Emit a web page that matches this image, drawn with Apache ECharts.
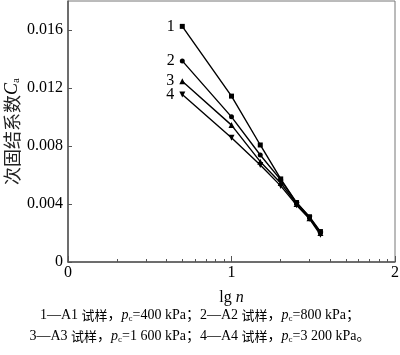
<!DOCTYPE html>
<html><head><meta charset="utf-8">
<script src="https://cdn.jsdelivr.net/npm/echarts@6/dist/echarts.min.js"></script>
<style>html,body{margin:0;padding:0;background:#fff}#c{width:400px;height:355px}</style>
</head><body><div id="c"></div>
<script>
var lgN = [0.699, 1, 1.176, 1.301, 1.398, 1.477, 1.544];
var s1 = [0.01625, 0.01144, 0.00807, 0.00573, 0.00410, 0.00312, 0.00210];
var s2 = [0.01387, 0.01001, 0.00738, 0.00566, 0.00408, 0.00308, 0.00205];
var s3 = [0.01247, 0.00944, 0.00692, 0.00545, 0.00400, 0.00302, 0.00200];
var s4 = [0.01155, 0.00857, 0.00669, 0.00525, 0.00392, 0.00298, 0.00188];
var seriesNames = ['1', '2', '3', '4'];
var yTicks = [0, 0.004, 0.008, 0.012, 0.016];
var xTicks = [0, 1, 2];
var minorN = [2,3,4,5,6,7,8,9,20,30,40,50,60,70,80,90];

var FONT = '"Liberation Serif", "Noto Sans CJK SC", serif';
var chart = echarts.init(document.getElementById('c'));
function pairs(ys){ return lgN.map(function(x,i){ return [x, ys[i]]; }); }
var symbols = [['rect',5,0],['circle',5,0],['triangle',6,0],['triangle',6,180]];
var series = [s1,s2,s3,s4].map(function(ys,k){
  return {
    type:'line', name:seriesNames[k], data:pairs(ys),
    symbol:symbols[k][0], symbolSize:symbols[k][1], symbolRotate:symbols[k][2],
    showAllSymbol:true,
    lineStyle:{color:'#000', width:1.4},
    itemStyle:{color:'#000'},
    label:{show:true, position:'left', distance:5, fontFamily:FONT, fontSize:16, color:'#000',
      formatter:function(p){ return p.dataIndex===0 ? p.seriesName : ''; }},
    z:3
  };
});
var cap = {
  t:{fontFamily:FONT, fontSize:14, color:'#000', lineHeight:16},
  c:{fontFamily:'"Noto Sans CJK SC", sans-serif', fontSize:13, color:'#444', lineHeight:16},
  i:{fontFamily:FONT, fontSize:14, fontStyle:'italic', color:'#000', lineHeight:16},
  s:{fontFamily:FONT, fontSize:9, color:'#000', lineHeight:9, verticalAlign:'bottom'}
};
chart.setOption({
  animation:false,
  grid:{left:68, right:5, top:1, bottom:93, containLabel:false, outerBoundsMode:'none',
    show:true, borderColor:'#777', borderWidth:1},
  xAxis:[{
    type:'value', min:xTicks[0], max:xTicks[xTicks.length-1], interval:1, position:'bottom',
    axisLine:{show:true, onZero:false, lineStyle:{color:'#555', width:1.5}},
    axisTick:{show:true, inside:true, length:6, lineStyle:{color:'#555'}},
    axisLabel:{fontFamily:FONT, fontSize:16, color:'#000', margin:3},
    splitLine:{show:false},
    name:'{t|lg }{i|n}', nameLocation:'middle', nameGap:28, nameMoveOverlap:false,
    nameTextStyle:{rich:{t:{fontFamily:FONT, fontSize:16, color:'#000'}, i:{fontFamily:FONT, fontSize:16, fontStyle:'italic', color:'#000'}}}
  },{
    type:'value', min:xTicks[0], max:xTicks[xTicks.length-1], position:'bottom',
    axisLine:{show:false},
    axisTick:{show:true, inside:true, length:3, customValues:minorN.map(function(n){return Math.log10(n);}), lineStyle:{color:'#555'}},
    axisLabel:{show:false}, splitLine:{show:false}
  }],
  yAxis:{
    type:'value', min:0, max:0.018, interval:0.004,
    axisLine:{show:true, onZero:false, lineStyle:{color:'#555', width:1.5}},
    axisTick:{show:true, inside:true, length:4, customValues:yTicks, lineStyle:{color:'#555'}},
    axisLabel:{fontFamily:FONT, fontSize:16, color:'#000', margin:5, customValues:yTicks,
      formatter:function(v){ return v===0 ? '0' : v.toFixed(3); }},
    splitLine:{show:false},
    name:'{c|次固结系数}{i|C}{s|a}', nameLocation:'middle', nameGap:46, nameRotate:90, nameMoveOverlap:false,
    nameTextStyle:{rich:{
      c:{fontFamily:'"Noto Sans CJK SC", sans-serif', fontSize:18, color:'#222', lineHeight:20},
      i:{fontFamily:FONT, fontSize:18, fontStyle:'italic', color:'#000', lineHeight:20},
      s:{fontFamily:FONT, fontSize:11, color:'#000', lineHeight:11, verticalAlign:'bottom'}
    }}
  },
  series:series,
  graphic:[
    {type:'text', left:'center', top:308, style:{
      text:'{t|1—A1 }{c|试样}{t|，}{i|p}{s|c}{t|=400 kPa；2—A2 }{c|试样}{t|，}{i|p}{s|c}{t|=800 kPa；}',
      rich:cap}},
    {type:'text', left:'center', top:329, style:{
      text:'{t|3—A3 }{c|试样}{t|，}{i|p}{s|c}{t|=1 600 kPa；4—A4 }{c|试样}{t|，}{i|p}{s|c}{t|=3 200 kPa。}',
      rich:cap}}
  ]
});
</script></body></html>
